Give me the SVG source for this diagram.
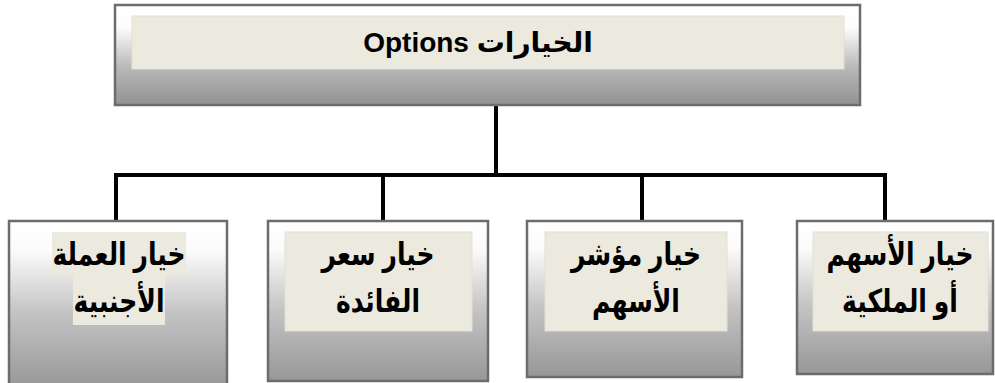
<svg xmlns="http://www.w3.org/2000/svg" width="995" height="383" viewBox="0 0 995 383">
  <defs>
    <!-- white-to-grey shading used on every box -->
    <linearGradient id="shadeTop" x1="0" y1="0" x2="0" y2="1">
      <stop offset="0" stop-color="#ffffff"/>
      <stop offset="0.22" stop-color="#fdfdfd"/>
      <stop offset="0.62" stop-color="#b9b9b9"/>
      <stop offset="1" stop-color="#929292"/>
    </linearGradient>
    <linearGradient id="shadeBox" x1="0" y1="0" x2="0" y2="1">
      <stop offset="0" stop-color="#ffffff"/>
      <stop offset="0.18" stop-color="#fbfbfb"/>
      <stop offset="0.55" stop-color="#c4c4c4"/>
      <stop offset="1" stop-color="#979797"/>
    </linearGradient>
  </defs>
  <style>
    .box { stroke: #6c6c6c; stroke-width: 2.5; }
    .top { fill: url(#shadeTop); }
    .sub { fill: url(#shadeBox); }
    .pad { fill: #ece9df; stroke: #e2dfd6; stroke-width: 1; }
    .hl { fill: #ece9df; }
    .wire { fill: none; stroke: #000000; stroke-width: 4; }
    .lbl { font-family: "Liberation Sans", "DejaVu Sans", sans-serif; font-weight: bold; fill: #000000; text-anchor: middle; direction: rtl; unicode-bidi: embed; }
    .t1 { font-size: 28px; }
    .t2 { font-size: 25px; }
  </style>

  <!-- connectors -->
  <g id="connectors">
    <path class="wire" d="M496 105 V175"/>
    <path class="wire" d="M116 175 H885"/>
    <path class="wire" d="M116 173 V222"/>
    <path class="wire" d="M383 173 V222"/>
    <path class="wire" d="M642 173 V222"/>
    <path class="wire" d="M885 173 V222"/>
  </g>

  <!-- root node -->
  <g id="options">
    <rect class="box top" x="115" y="5" width="745" height="100"/>
    <rect class="pad" x="132" y="16" width="712" height="53"/>
    <text class="lbl t1" x="478" y="52">الخيارات Options</text>
  </g>

  <!-- foreign currency option -->
  <g id="currency">
    <rect class="box sub" x="9" y="221" width="218" height="166"/>
    <rect class="hl" x="52" y="232" width="134" height="43"/>
    <rect class="hl" x="73" y="275" width="92" height="50"/>
    <text class="lbl t2" transform="translate(119 265) scale(1 1.28)">خيار العملة</text>
    <text class="lbl t2" transform="translate(119 312) scale(1 1.28)">الأجنبية</text>
  </g>

  <!-- interest rate option -->
  <g id="interest">
    <rect class="box sub" x="268" y="221" width="220" height="160"/>
    <rect class="pad" x="285" y="232" width="187" height="99"/>
    <text class="lbl t2" transform="translate(378 265) scale(1 1.28)">خيار سعر</text>
    <text class="lbl t2" transform="translate(378 312) scale(1 1.28)">الفائدة</text>
  </g>

  <!-- stock index option -->
  <g id="index">
    <rect class="box sub" x="527" y="221" width="215" height="156"/>
    <rect class="pad" x="545" y="232" width="182" height="99"/>
    <text class="lbl t2" transform="translate(636 265) scale(1 1.28)">خيار مؤشر</text>
    <text class="lbl t2" transform="translate(636 312) scale(1 1.28)">الأسهم</text>
  </g>

  <!-- stock / ownership option -->
  <g id="stock">
    <rect class="box sub" x="797" y="221" width="196" height="153"/>
    <rect class="pad" x="813" y="232" width="175" height="99"/>
    <text class="lbl t2" transform="translate(900 265) scale(1 1.28)">خيار الأسهم</text>
    <text class="lbl t2" transform="translate(900 312) scale(1 1.28)">أو الملكية</text>
  </g>
</svg>
